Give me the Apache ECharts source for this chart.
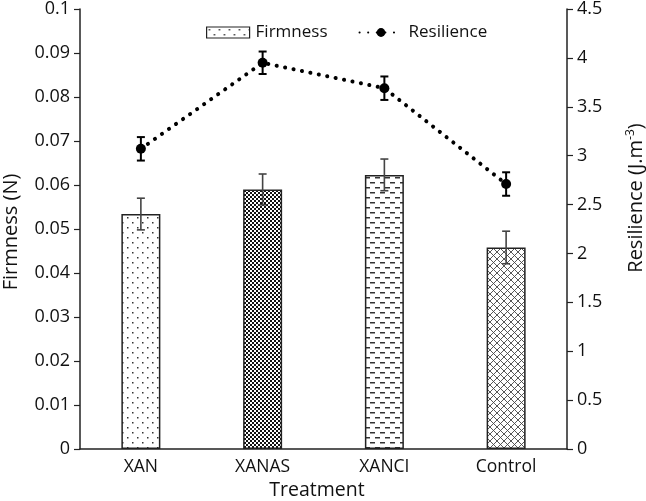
<!DOCTYPE html>
<html>
<head>
<meta charset="utf-8">
<script src="https://cdn.jsdelivr.net/npm/echarts@6/dist/echarts.min.js"></script>
<style>
html,body{margin:0;padding:0;background:#fff;}
#chart{width:646px;height:501px;}
</style>
</head>
<body>
<div id="chart"></div>
<script>
var categories = ['XAN', 'XANAS', 'XANCI', 'Control'];
var firmness = [0.0534, 0.059, 0.0623, 0.0458];
var firmnessErr = [0.0036, 0.0035, 0.0036, 0.0037];
var resilience = [3.07, 3.95, 3.69, 2.71];
var resilienceErr = [0.12, 0.115, 0.12, 0.12];
var firmnessTicks = [0, 0.1, 0.01];
var resilienceTicks = [0, 4.5, 0.5];

function makePattern(w, h, draw) {
  var c = document.createElement('canvas');
  c.width = w; c.height = h;
  var ctx = c.getContext('2d');
  ctx.fillStyle = '#fff';
  ctx.fillRect(0, 0, w, h);
  draw(ctx);
  return { image: c, repeat: 'repeat' };
}
var patDots = makePattern(10, 10, function (ctx) {
  ctx.fillStyle = '#333';
  ctx.fillRect(2, 2, 1.5, 1.5);
  ctx.fillRect(7, 7, 1.5, 1.5);
});
var patChecker = makePattern(4, 4, function (ctx) {
  ctx.fillStyle = '#111';
  ctx.fillRect(0, 0, 4, 4);
  ctx.fillStyle = '#fff';
  ctx.fillRect(0, 0, 2, 2);
  ctx.fillRect(2, 2, 2, 2);
});
var patDash = makePattern(10, 10, function (ctx) {
  ctx.fillStyle = '#333';
  ctx.fillRect(0, 2, 5, 1.5);
  ctx.fillRect(5, 7, 5, 1.5);
});
var patCross = makePattern(7, 7, function (ctx) {
  ctx.strokeStyle = '#444';
  ctx.lineWidth = 0.9;
  ctx.beginPath();
  ctx.moveTo(0, 0); ctx.lineTo(7, 7);
  ctx.moveTo(7, 0); ctx.lineTo(0, 7);
  ctx.stroke();
});
var patterns = [patDots, patChecker, patDash, patCross];

var FONT = 'Open Sans';

function errRender(color, width, capHalf) {
  return function (params, api) {
    var x = api.value(0), lo = api.value(1), hi = api.value(2);
    var pHi = api.coord([x, hi]);
    var pLo = api.coord([x, lo]);
    var cx = pHi[0];
    var style = { stroke: color, lineWidth: width };
    return {
      type: 'group',
      children: [
        { type: 'line', shape: { x1: cx, y1: pHi[1], x2: cx, y2: pLo[1] }, style: style },
        { type: 'line', shape: { x1: cx - capHalf, y1: pHi[1], x2: cx + capHalf, y2: pHi[1] }, style: style },
        { type: 'line', shape: { x1: cx - capHalf, y1: pLo[1], x2: cx + capHalf, y2: pLo[1] }, style: style }
      ]
    };
  };
}

var chart = echarts.init(document.getElementById('chart'), null, { renderer: 'canvas' });
var option = {
  backgroundColor: '#fff',
  animation: false,
  textStyle: { fontFamily: FONT },
  grid: { left: 80, right: 79, top: 9, bottom: 52 },
  legend: {
    left: 201,
    top: 19,
    itemWidth: 43,
    itemHeight: 11,
    itemGap: 31,
    textStyle: { fontFamily: FONT, fontSize: 17, color: '#111', padding: [0, 0, 0, 1] },
    data: [
      { name: 'Firmness', icon: 'rect', itemStyle: { color: patDots, borderColor: '#222', borderWidth: 1.2 } },
      { name: 'Resilience' }
    ]
  },
  xAxis: {
    type: 'category',
    data: categories,
    axisLine: { lineStyle: { color: '#222', width: 1.5 } },
    axisTick: { show: false },
    axisLabel: { fontFamily: FONT, fontSize: 17.5, color: '#111', margin: 9 }
  },
  yAxis: [
    {
      type: 'value',
      min: firmnessTicks[0], max: firmnessTicks[1], interval: firmnessTicks[2],
      position: 'left',
      axisLine: { show: true, lineStyle: { color: '#222', width: 1.5 } },
      axisTick: { show: true, length: 6, lineStyle: { color: '#222', width: 1.2 } },
      splitLine: { show: false },
      axisLabel: { fontFamily: FONT, fontSize: 18, color: '#111', margin: 10 }
    },
    {
      type: 'value',
      min: resilienceTicks[0], max: resilienceTicks[1], interval: resilienceTicks[2],
      position: 'right',
      axisLine: { show: true, lineStyle: { color: '#222', width: 1.5 } },
      axisTick: { show: true, length: 6, lineStyle: { color: '#222', width: 1.2 } },
      splitLine: { show: false },
      axisLabel: { fontFamily: FONT, fontSize: 18, color: '#111', margin: 10 }
    }
  ],
  graphic: [
    {
      type: 'text', rotation: Math.PI / 2, x: 11, y: 232,
      style: { text: 'Firmness (N)', font: '20px "Open Sans"', fill: '#111', textAlign: 'center', textVerticalAlign: 'middle' }
    },
    {
      type: 'text', rotation: Math.PI / 2, x: 636, y: 198,
      style: {
        text: '{a|Resilience (J.m}{s|-3}{a|)}',
        rich: {
          a: { font: '20px "Open Sans"', fill: '#111' },
          s: { font: '12px "Open Sans"', fill: '#111', padding: [0, 0, 10, 0] }
        },
        textAlign: 'center', textVerticalAlign: 'middle'
      }
    },
    {
      type: 'text', x: 317, y: 490,
      style: { text: 'Treatment', font: '19.5px "Open Sans"', fill: '#111', textAlign: 'center', textVerticalAlign: 'middle' }
    }
  ],
  series: [
    {
      name: 'Firmness',
      type: 'bar',
      yAxisIndex: 0,
      barWidth: 39,
      itemStyle: { color: patDots, borderColor: '#222', borderWidth: 1.5 },
      data: firmness.map(function (v, i) {
        return { value: v, itemStyle: { color: patterns[i], borderColor: '#222', borderWidth: 1.5 } };
      }),
      z: 2
    },
    {
      name: 'FirmErr',
      type: 'custom',
      yAxisIndex: 0,
      renderItem: errRender('#444', 1.6, 4),
      data: firmness.map(function (v, i) { return [i, v - firmnessErr[i], v + firmnessErr[i]]; }),
      z: 5
    },
    {
      name: 'Resilience',
      type: 'line',
      yAxisIndex: 1,
      data: resilience,
      symbol: 'circle',
      symbolSize: 10,
      itemStyle: { color: '#000' },
      lineStyle: { color: '#000', width: 4, type: [0.1, 8.5], cap: 'round' },
      z: 6
    },
    {
      name: 'ResErr',
      type: 'custom',
      yAxisIndex: 1,
      renderItem: errRender('#000', 2, 4),
      data: resilience.map(function (v, i) { return [i, v - resilienceErr[i], v + resilienceErr[i]]; }),
      z: 7
    }
  ]
};
chart.setOption(option);
</script>
</body>
</html>
